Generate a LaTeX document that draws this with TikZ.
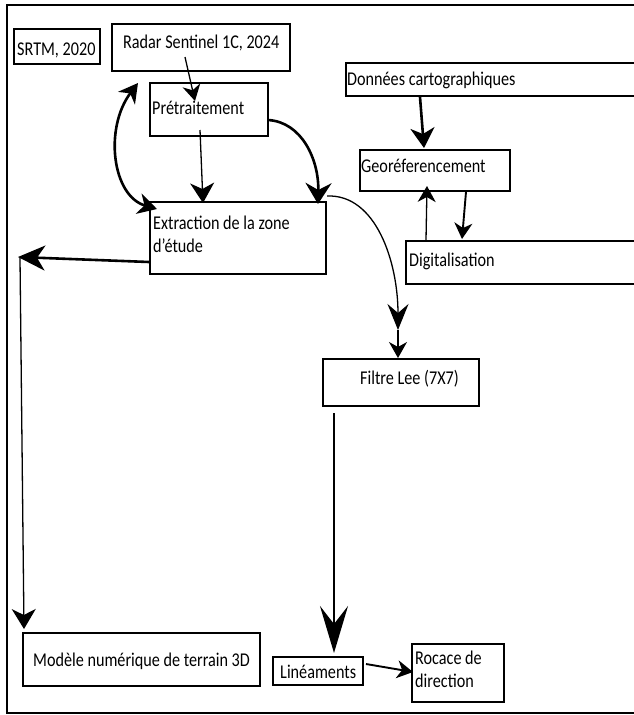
\documentclass[tikz,border=0pt]{standalone}
\usepackage{fontspec}
\setmainfont{Carlito}[FakeStretch=0.83]
\usetikzlibrary{arrows.meta,calc}
\begin{document}
\begin{tikzpicture}[x=1pt,y=-1pt,
  box/.style={draw, line width=1.5pt, inner sep=0pt, anchor=north west},
  txt/.style={inner sep=0pt, font=\fontsize{19.5}{23}\selectfont, align=left},
  thinline/.style={line width=1.3pt},
  midline/.style={line width=1.9pt},
  heavy/.style={line width=2.6pt},
  tipS/.style={-{Stealth[length=16pt,width=18pt,inset=5pt]}},
  tipM/.style={-{Stealth[length=20pt,width=24pt,inset=6pt]}},
  tipL/.style={-{Stealth[length=27pt,width=25pt,inset=8pt]}},
  tipXL/.style={-{Stealth[length=47pt,width=28pt,inset=18pt]}}
]
\useasboundingbox (0,0) rectangle (634,715);
\clip (0,0) rectangle (634,715);
\fill[white] (0,0) rectangle (634,715);
% outer frame
\draw[line width=1.5pt] (7,5) rectangle (660,713);

% boxes
\node[box, minimum width=86pt,  minimum height=35pt] (srtm)  at (13,28)  {};
\node[box, minimum width=178pt, minimum height=47pt] (radar) at (111,23) {};
\node[box, minimum width=118pt, minimum height=53pt] (pre)   at (149,82) {};
\node[box, minimum width=320pt, minimum height=33pt] (don)   at (345,62) {};
\node[box, minimum width=150pt, minimum height=41pt] (geo)   at (359,149) {};
\node[box, minimum width=176pt, minimum height=72pt] (ext)   at (149,201) {};
\node[box, minimum width=260pt, minimum height=43pt] (dig)   at (405,240) {};
\node[box, minimum width=156pt, minimum height=47pt] (fil)   at (322,358) {};
\node[box, minimum width=237pt, minimum height=53pt] (mnt)   at (22,632) {};
\node[box, minimum width=90pt,  minimum height=28pt] (lin)   at (272,656) {};
\node[box, minimum width=92pt,  minimum height=58pt] (roc)   at (411,643) {};

% texts
\node[txt, anchor=base west] (srtmT)  at (17,55)  {SRTM, 2020};
\node[txt, anchor=base west] (radarT) at (123,48) {Radar Sentinel 1C, 2024};
\node[txt, anchor=base west] (preT)   at (152,114) {Prétraitement};
\node[txt, anchor=base west] (donT)   at (347,85) {Données cartographiques};
\node[txt, anchor=base west] (geoT)   at (361,172) {Georéferencement};
\node[txt, anchor=north west] (extT)  at (153,216) {Extraction de la zone\\d'étude};
\node[txt, anchor=base west] (digT)   at (409,266) {Digitalisation};
\node[txt, anchor=base west] (filT)   at (360,384) {Filtre Lee (7X7)};
\node[txt, anchor=base west] (mntT)   at (33,666) {Modèle numérique de terrain 3D};
\node[txt, anchor=base west] (linT)   at (280,678) {Linéaments};
\node[txt, anchor=north west] (rocT)  at (415,651) {Rocace de\\direction};

% connector end points
\coordinate (r1) at (185,57);
\coordinate (r2) at (195,101);
\coordinate (p1) at (200,130);
\coordinate (p2) at (203,203);
\coordinate (l1) at (157,209);
\coordinate (l2) at (138,83);
\coordinate (c1) at (268,120);
\coordinate (c2) at (318,204);
\coordinate (e1) at (327,196);
\coordinate (e2) at (398,330);
\coordinate (d1) at (420,97);
\coordinate (d2) at (424,148);
\coordinate (g1) at (426,240);
\coordinate (g2) at (427,186);
\coordinate (g3) at (466,192);
\coordinate (g4) at (462,239);
\coordinate (x1) at (149,262);
\coordinate (x2) at (18,257);
\coordinate (v1) at (20,258);
\coordinate (v2) at (24,629);
\coordinate (f1) at (334,413);
\coordinate (f2) at (334,653);
\coordinate (n1) at (366,664);
\coordinate (n2) at (413,672);

% connectors
\draw[thinline, tipS] (r1) -- (r2);
\draw[thinline, tipM] (p1) -- (p2);
\draw[heavy, {Stealth[length=19pt,width=21pt,inset=6pt]}-{Stealth[length=19pt,width=21pt,inset=6pt]}]
  (l1) .. controls (112,196) and (104,128) .. (l2);
\draw[heavy, -{Stealth[length=21pt,width=26pt,inset=7pt]}] (c1) .. controls (302,122) and (319,160) .. (c2);
\draw[thinline, -{Stealth[length=26pt,width=21pt,inset=9pt]}] (e1) .. controls (376,194) and (398,262) .. (e2);
\draw[thinline, tipS] (e2) -- (fil.north -| e2);
\draw[heavy, tipM] (d1) -- (d2);
\draw[thinline, tipS] (g1) -- (g2);
\draw[midline, tipS] (g3) -- (g4);
\draw[heavy, tipL] (x1) -- (x2);
\draw[thinline, tipM] (v1) -- (v2);
\draw[heavy, tipXL] (f1) -- (f2);
\draw[midline, tipS] (n1) -- (n2);
\end{tikzpicture}
\end{document}
